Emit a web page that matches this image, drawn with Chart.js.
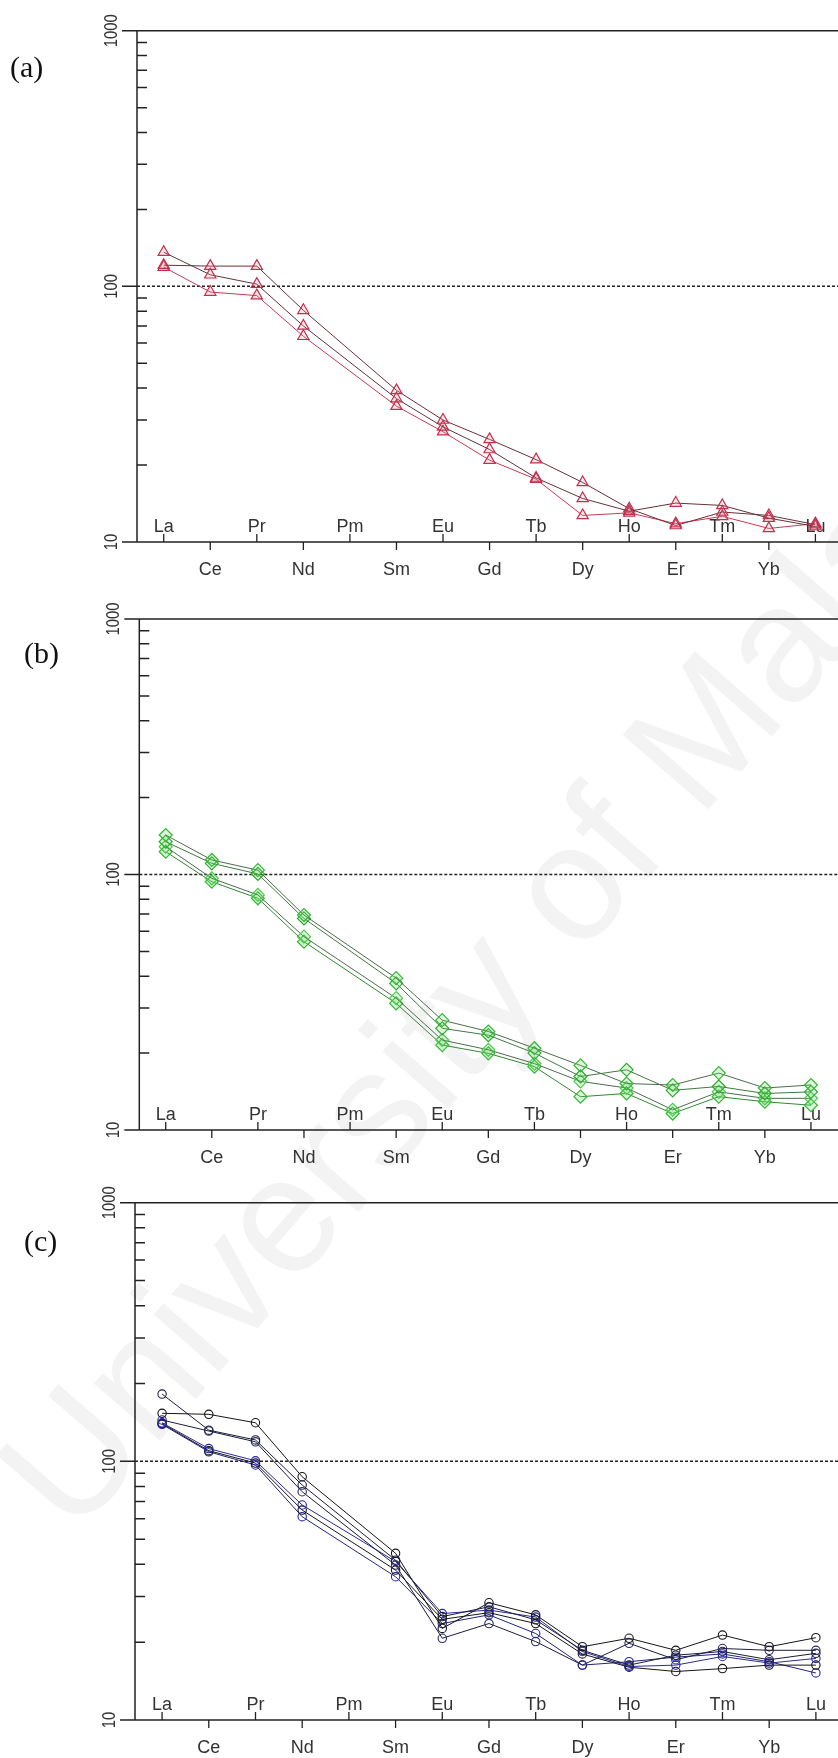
<!DOCTYPE html>
<html>
<head>
<meta charset="utf-8">
<script src="https://cdn.jsdelivr.net/npm/chart.js@4.4.0/dist/chart.umd.min.js"></script>
<style>
  body { margin: 0; background: #fff; }
  #page { position: relative; width: 838px; height: 1758px; overflow: hidden; }
  canvas { position: absolute; left: 0; z-index: 1; }
  .tag { position: absolute; font-family: "Liberation Serif", serif; font-size: 30px; color: #111; z-index: 2; }
  #mark { position: absolute; left: -40px; top: 1440px; font-family: "Liberation Sans", sans-serif;
          font-size: 165px; color: #f3f3f3; white-space: nowrap; transform-origin: 0 0;
          transform: rotate(-49deg); z-index: 0; }
</style>
</head>
<body>
<div id="page">
  <div id="mark">University of Malaya</div>
  <canvas id="chartA" style="top:0px"></canvas>
  <canvas id="chartB" style="top:580px"></canvas>
  <canvas id="chartC" style="top:1170px"></canvas>
  <div class="tag" style="left:10px; top:50px">(a)</div>
  <div class="tag" style="left:24px; top:636px">(b)</div>
  <div class="tag" style="left:24px; top:1224px">(c)</div>
</div>
<script>
// REE, chondrite normalised
const ree = ['La', 'Ce', 'Pr', 'Nd', 'Pm', 'Sm', 'Eu', 'Gd', 'Tb', 'Dy', 'Ho', 'Er', 'Tm', 'Yb', 'Lu'];
const yTicks = [10, 100, 1000];

// (a) triangles
const a1 = [136, 111, 102, 70, null, 36.4, 28.2, 23.0, 17.8, 14.8, 13.2, 14.2, 13.9, 12.4, 11.5];
const a2 = [121, 120, 120, 80.6, null, 39.2, 30.0, 25.2, 21.0, 17.1, 13.5, 11.6, 13.1, 12.7, 11.7];
const a3 = [119, 95, 92, 63.8, null, 34.0, 27.0, 20.9, 17.6, 12.7, 13.0, 11.8, 12.6, 11.3, 11.8];

// (b) diamonds
const b1 = [142.7, 114, 104, 69.4, null, 39.3, 26.9, 24.3, 20.9, 17.9, 15.2, 15.0, 16.7, 14.6, 15.0];
const b2 = [134.4, 110.6, 100.5, 67.3, null, 37.5, 25.0, 23.5, 20.0, 16.2, 17.2, 14.3, 14.8, 13.9, 14.1];
const b3 = [128.5, 96.6, 83.2, 57.1, null, 32.8, 22.5, 20.6, 18.2, 15.5, 14.6, 12.0, 14.1, 13.3, 13.3];
const b4 = [122.8, 93.7, 80.7, 54.6, null, 31.3, 21.5, 19.95, 17.7, 13.5, 13.9, 11.6, 13.5, 12.9, 12.5];

// (c) circles
const c1 = [182, 132, 121, 81, null, 41.5, 25.1, 27.4, 24.4, 18.6, 16.3, 17.8, 18.4, 17.1, 18.1];
const c2 = [153.4, 152, 141, 87.2, null, 44.1, 22.6, 28.4, 25.5, 19.2, 20.7, 18.6, 21.3, 19.2, 20.8];
const c3 = [144.5, 131, 119, 76.3, null, 39.7, 20.7, 23.6, 20.1, 16.3, 19.8, 17.1, 18.9, 18.6, 18.6];
const c4 = [141, 112, 100.5, 67.8, null, 41.0, 25.8, 26.6, 25.0, 18.4, 16.1, 16.3, 17.6, 16.6, 17.3];
const c5 = [140, 110, 98.5, 64.8, null, 38.0, 24.5, 26.0, 23.6, 18.0, 16.0, 15.4, 15.8, 16.3, 16.3];
const c6 = [139, 108.9, 96.8, 61.1, null, 35.8, 23.6, 25.5, 21.6, 16.3, 16.8, 17.5, 18.0, 16.8, 15.2];

const toPts = arr => arr.map((v, i) => ({ x: i, y: v }));

// axes drawn by hand: odd/even REE ticks alternate above/below the axis
const spiderAxes = {
  id: 'spiderAxes',
  beforeDatasetsDraw(chart) {
    const { ctx, chartArea: ca, scales: { x, y } } = chart;
    const ink = '#222';
    ctx.save();
    ctx.strokeStyle = ink;
    ctx.lineWidth = 1.5;

    // frame: left axis, top (1000) line, bottom (10) line
    const yTop = y.getPixelForValue(1000), yBot = y.getPixelForValue(10), y100 = y.getPixelForValue(100);
    ctx.beginPath();
    ctx.moveTo(ca.left, yTop); ctx.lineTo(ca.left, yBot);
    ctx.moveTo(ca.left - 15, yTop); ctx.lineTo(chart.width, yTop);
    ctx.moveTo(ca.left - 15, yBot); ctx.lineTo(chart.width, yBot);
    ctx.moveTo(ca.left - 15, y100); ctx.lineTo(ca.left, y100);
    ctx.stroke();

    // dotted 100 line
    ctx.beginPath();
    ctx.setLineDash([3, 2]);
    ctx.moveTo(ca.left, y100); ctx.lineTo(chart.width, y100);
    ctx.stroke();
    ctx.setLineDash([]);

    // minor ticks inside
    ctx.beginPath();
    [10, 100].forEach(d => {
      for (let m = 2; m <= 9; m++) {
        const py = y.getPixelForValue(d * m);
        ctx.moveTo(ca.left, py); ctx.lineTo(ca.left + 10, py);
      }
    });
    ctx.stroke();

    // y labels, rotated
    ctx.fillStyle = '#333';
    ctx.font = '19px "Liberation Sans", Arial, sans-serif';
    ctx.textAlign = 'center';
    ctx.textBaseline = 'alphabetic';
    yTicks.forEach(t => {
      ctx.save();
      ctx.translate(ca.left - 20, y.getPixelForValue(t));
      ctx.rotate(-Math.PI / 2);
      ctx.scale(0.78, 1);
      ctx.fillText(String(t), 0, 0);
      ctx.restore();
    });

    // x ticks and element labels
    ctx.font = '18px "Liberation Sans", Arial, sans-serif';
    ctx.lineWidth = 1.3;
    ctx.beginPath();
    ree.forEach((el, i) => {
      const px = x.getPixelForValue(i);
      if (i % 2 === 0) {
        ctx.moveTo(px, yBot); ctx.lineTo(px, yBot - 8);
        ctx.fillText(el, px, yBot - 10);
      } else {
        ctx.moveTo(px, yBot); ctx.lineTo(px, yBot + 8);
        ctx.fillText(el, px, yBot + 33);
      }
    });
    ctx.stroke();
    ctx.restore();
  }
};

function makeChart(id, series, pad, xMin, xMax, style) {
  new Chart(document.getElementById(id), {
    type: 'line',
    data: {
      datasets: series.map((s, k) => ({
        data: toPts(s),
        spanGaps: true,
        borderColor: style.line[k % style.line.length],
        borderWidth: 1,
        pointStyle: style.point,
        pointRadius: style.radius,
        pointBorderWidth: style.pw,
        pointBorderColor: style.mark[k % style.mark.length],
        pointBackgroundColor: style.fill,
        clip: false,
        tension: 0
      }))
    },
    options: {
      responsive: false,
      animation: false,
      layout: { padding: pad },
      plugins: { legend: { display: false }, tooltip: { enabled: false } },
      scales: {
        x: { type: 'linear', min: xMin, max: xMax, display: false },
        y: { type: 'logarithmic', min: 10, max: 1000, display: false }
      }
    },
    plugins: [spiderAxes]
  });
}

function sizeCanvas(id, h) {
  const c = document.getElementById(id);
  c.width = 838; c.height = h;
  c.style.width = '838px'; c.style.height = h + 'px';
}
sizeCanvas('chartA', 580);
sizeCanvas('chartB', 590);
sizeCanvas('chartC', 588);

makeChart('chartA', [a1, a2, a3], { left: 137, top: 30.7, right: 0, bottom: 38 }, -0.574, 14.32, {
  point: 'triangle', radius: 6.5, pw: 1.2,
  line: ['#5e3438', '#6b2f38', '#c83a55'],
  mark: ['#c2304e', '#c2304e', '#c2304e'],
  fill: 'rgba(235,130,150,0.18)'
});

makeChart('chartB', [b1, b2, b3, b4], { left: 139.3, top: 39, right: 0, bottom: 40 }, -0.573, 14.42, {
  point: 'rectRot', radius: 6.5, pw: 1.2,
  line: ['#4f6a4f', '#3f7a3f', '#4f6a4f', '#2f8a2f'],
  mark: ['#34b834', '#2ea82e', '#4cc84c', '#34b834'],
  fill: 'rgba(90,220,90,0.22)'
});

makeChart('chartC', [c1, c2, c3, c4, c5, c6], { left: 135, top: 32.7, right: 0, bottom: 38 }, -0.58, 14.36, {
  point: 'circle', radius: 4.2, pw: 1.1,
  line: ['#1c1c3a', '#151515', '#1c1c3a', '#2a2a9a', '#151515', '#23237a'],
  mark: ['#202040', '#151515', '#2a2a70', '#2424b0', '#151515', '#2424b0'],
  fill: 'rgba(255,255,255,0)'
});
</script>
</body>
</html>
